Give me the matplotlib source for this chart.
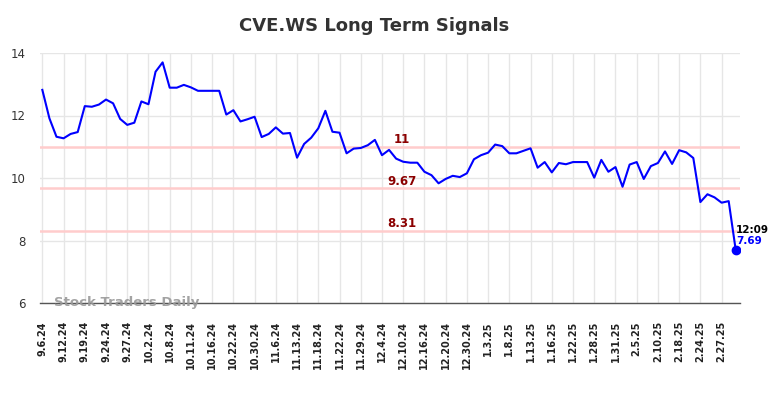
import matplotlib
matplotlib.use('Agg')
import matplotlib.pyplot as plt
import numpy as np

# Precios (un punto por sesion, en orden)
precios = [12.82, 11.91, 11.32, 11.27, 11.41, 11.47, 12.30, 12.28, 12.35, 12.51,
           12.39, 11.89, 11.70, 11.77, 12.45, 12.36, 13.40, 13.70, 12.89, 12.89,
           12.98, 12.90, 12.79, 12.79, 12.79, 12.79, 12.03, 12.17, 11.81, 11.88,
           11.96, 11.31, 11.41, 11.62, 11.42, 11.44, 10.65, 11.09, 11.29, 11.59,
           12.15, 11.48, 11.45, 10.79, 10.94, 10.96, 11.05, 11.22, 10.73, 10.90,
           10.62, 10.52, 10.49, 10.49, 10.20, 10.09, 9.83, 9.97, 10.07, 10.03,
           10.15, 10.60, 10.73, 10.81, 11.07, 11.02, 10.79, 10.79, 10.87, 10.95,
           10.33, 10.51, 10.18, 10.48, 10.44, 10.51, 10.51, 10.51, 10.01, 10.58,
           10.20, 10.35, 9.72, 10.43, 10.51, 9.97, 10.38, 10.48, 10.85, 10.45,
           10.89, 10.82, 10.64, 9.23, 9.48, 9.38, 9.21, 9.26, 7.69]

# Etiquetas del eje x (una cada 3 puntos)
fechas = ['9.6.24', '9.12.24', '9.19.24', '9.24.24', '9.27.24', '10.2.24', '10.8.24',
          '10.11.24', '10.16.24', '10.22.24', '10.30.24', '11.6.24', '11.13.24',
          '11.18.24', '11.22.24', '11.29.24', '12.4.24', '12.10.24', '12.16.24',
          '12.20.24', '12.30.24', '1.3.25', '1.8.25', '1.13.25', '1.16.25', '1.22.25',
          '1.28.25', '1.31.25', '2.5.25', '2.10.25', '2.18.25', '2.24.25', '2.27.25']

# Niveles de senal
niveles = [11, 9.67, 8.31]
etiquetas_niveles = ['11', '9.67', '8.31']

ultima_hora = '12:09'

x = np.arange(len(precios))

fig = plt.figure(figsize=(7.84, 3.98), dpi=100)
ax = fig.add_axes([39.5 / 784, 95 / 398, 700.5 / 784, 250 / 398])

# Grilla
ax.set_axisbelow(True)
ax.grid(True, color='#e6e6e6', linewidth=1)

# Lineas de senal
for nivel, txt in zip(niveles, etiquetas_niveles):
    ax.axhline(nivel, color='#ffcccc', linewidth=1.8, zorder=1)
    ax.text(50.8, nivel + 0.23, txt, color='#8b0000', fontsize=8.5,
            fontweight='bold', ha='center', va='center')

# Serie de precios
ax.plot(x, precios, color='#0000ff', linewidth=1.5, zorder=3)
ax.plot(x[-1], precios[-1], 'o', color='#0000ff', markersize=6, zorder=4)

ax.text(x[-1], precios[-1] + 0.5, ultima_hora, color='black', fontsize=7.5,
        fontweight='bold', ha='left', va='bottom')
ax.text(x[-1], precios[-1] + 0.45, f'{precios[-1]:.2f}', color='#0000ff', fontsize=7.5,
        fontweight='bold', ha='left', va='top')

# Marca de agua
ax.text(1.6, 6.03, 'Stock Traders Daily', color='#999999', fontsize=9.5,
        fontweight='bold', ha='left', va='center', alpha=0.9)

# Ejes
ax.set_xlim(-0.4, 98.6)
ax.set_ylim(6, 14)
ax.set_yticks([6, 8, 10, 12, 14])
ax.set_xticks(x[::3])
ax.set_xticklabels(fechas, rotation=90, fontsize=7, fontweight='bold', color='#222222')
ax.tick_params(axis='x', length=0, pad=13)
ax.tick_params(axis='y', length=0, pad=10, labelsize=8.5, labelcolor='#333333')

for lado in ['top', 'right', 'left']:
    ax.spines[lado].set_visible(False)
ax.spines['bottom'].set_color('#555555')
ax.spines['bottom'].set_linewidth(1)

fig.text(374.5 / 784, 1 - 26 / 398, 'CVE.WS Long Term Signals', fontsize=13,
         fontweight='bold', color='#333333', ha='center', va='center')

fig.savefig('out.png', dpi=100)
